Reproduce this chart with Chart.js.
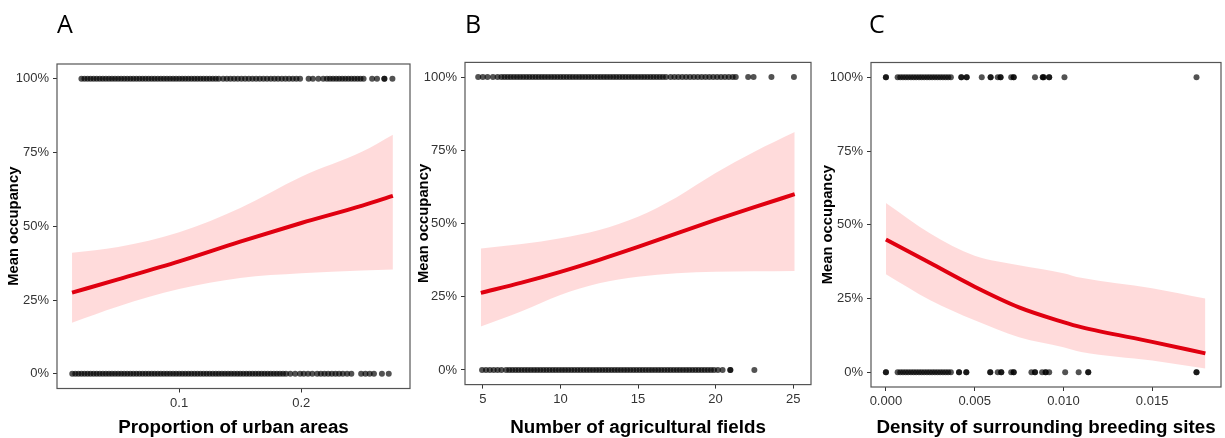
<!DOCTYPE html>
<html>
<head>
<meta charset="utf-8">
<title>Mean occupancy</title>
<script src="https://cdn.jsdelivr.net/npm/chart.js@4.4.1/dist/chart.umd.min.js"></script>
<style>
  body { margin: 0; background: #fff; }
  #wrap { position: relative; width: 1225px; height: 438px; overflow: hidden; }
  .panel { position: absolute; top: 0; }
  .letter { position: absolute; top: 11px; font: 25px "Open Sans", sans-serif; line-height: 25px; color: #000; }
</style>
</head>
<body>
<div id="wrap">
  <canvas id="chartA" class="panel" style="left:0px" width="414" height="438"></canvas>
  <canvas id="chartB" class="panel" style="left:414px" width="401" height="438"></canvas>
  <canvas id="chartC" class="panel" style="left:815px" width="410" height="438"></canvas>
  <div class="letter" style="left:57px">A</div>
  <div class="letter" style="left:465px">B</div>
  <div class="letter" style="left:869px">C</div>
</div>
<script>
// ---------------------- DATA ---------------------
const occTicks = [0, 0.25, 0.5, 0.75, 1];

// A: proportion of urban areas
const urbanTicks = [0.1, 0.2];
const urbanOcc1 = [0.02, 0.0225, 0.025, 0.0275, 0.03, 0.0325, 0.035, 0.0375, 0.04, 0.0425, 0.045, 0.0475, 0.05, 0.0525,
  0.055, 0.0575, 0.06, 0.0625, 0.065, 0.0675, 0.07, 0.0725, 0.075, 0.0775, 0.08, 0.0825, 0.085, 0.0875, 0.09, 0.0925,
  0.095, 0.0975, 0.1, 0.1025, 0.105, 0.1075, 0.11, 0.1125, 0.115, 0.1175, 0.12, 0.1225, 0.125, 0.1275, 0.13, 0.1325,
  0.136, 0.139, 0.142, 0.145, 0.148, 0.151, 0.154, 0.157, 0.16, 0.163, 0.166, 0.169, 0.172, 0.175, 0.178, 0.181,
  0.184, 0.187, 0.19, 0.193, 0.196, 0.199, 0.206, 0.2095, 0.214, 0.218, 0.221, 0.2235, 0.226, 0.2285, 0.231, 0.2335,
  0.236, 0.2385, 0.241, 0.2435, 0.246, 0.2485, 0.251, 0.258, 0.262, 0.268, 0.268, 0.2746];
const urbanOcc0 = [0.0125, 0.015, 0.0175, 0.02, 0.0225, 0.025, 0.0275, 0.03, 0.0325, 0.035, 0.0375, 0.04, 0.0425, 0.045,
  0.0475, 0.05, 0.0525, 0.055, 0.0575, 0.06, 0.0625, 0.065, 0.0675, 0.07, 0.0725, 0.075, 0.0775, 0.08, 0.0825, 0.085,
  0.0875, 0.09, 0.0925, 0.095, 0.0975, 0.1, 0.1025, 0.105, 0.1075, 0.11, 0.1125, 0.115, 0.1175, 0.12, 0.1225, 0.125,
  0.1275, 0.13, 0.1325, 0.135, 0.1375, 0.14, 0.1425, 0.145, 0.1475, 0.15, 0.1525, 0.155, 0.1575, 0.16, 0.1625, 0.165,
  0.1675, 0.17, 0.1725, 0.175, 0.1775, 0.18, 0.1825, 0.185, 0.1875, 0.191, 0.195, 0.199, 0.202, 0.2055, 0.209, 0.213,
  0.216, 0.219, 0.222, 0.225, 0.228, 0.231, 0.234, 0.2375, 0.241, 0.249, 0.2525, 0.256, 0.2595, 0.266, 0.2716];
const urbanCurveX = [0.0123, 0.05, 0.1, 0.15, 0.2, 0.25, 0.275];
const urbanFit = [0.275, 0.32, 0.381, 0.448, 0.511, 0.57, 0.603];
const urbanLower = [0.173, 0.228, 0.287, 0.325, 0.341, 0.35, 0.353];
const urbanUpper = [0.41, 0.43, 0.48, 0.562, 0.668, 0.753, 0.81];

// B: number of agricultural fields
const fieldTicks = [5, 10, 15, 20, 25];
const fieldOcc1 = [4.7, 5.0, 5.3, 5.65, 5.95, 6.2, 6.4, 6.6, 6.8, 7.0, 7.2, 7.4, 7.6, 7.8, 8.0, 8.2, 8.4, 8.6, 8.8, 9.0,
  9.2, 9.4, 9.6, 9.8, 10.0, 10.2, 10.4, 10.6, 10.8, 11.0, 11.2, 11.4, 11.6, 11.8, 12.0, 12.2, 12.4, 12.6, 12.8, 13.0,
  13.2, 13.4, 13.6, 13.8, 14.0, 14.2, 14.4, 14.6, 14.8, 15.0, 15.2, 15.4, 15.6, 15.8, 16.0, 16.2, 16.4, 16.6, 16.8,
  17.1, 17.35, 17.6, 17.85, 18.1, 18.35, 18.6, 18.85, 19.1, 19.35, 19.6, 19.85, 20.1, 20.35, 20.6, 20.85, 21.1, 21.3,
  22.1, 22.45, 23.6, 25.05];
const fieldOcc0 = [4.95, 5.2, 5.45, 5.7, 5.95, 6.2, 6.5, 6.7, 6.9, 7.1, 7.3, 7.5, 7.7, 7.9, 8.1, 8.3, 8.5, 8.7, 8.9, 9.1,
  9.3, 9.5, 9.7, 9.9, 10.1, 10.3, 10.5, 10.7, 10.9, 11.1, 11.3, 11.5, 11.7, 11.9, 12.1, 12.3, 12.5, 12.7, 12.9, 13.1,
  13.3, 13.5, 13.7, 13.9, 14.1, 14.3, 14.5, 14.7, 14.9, 15.1, 15.3, 15.5, 15.7, 15.9, 16.1, 16.3, 16.5, 16.7, 16.9,
  17.1, 17.3, 17.5, 17.7, 17.9, 18.1, 18.3, 18.5, 18.7, 18.9, 19.1, 19.3, 19.5, 19.7, 19.9, 20.15, 20.45, 20.95, 20.95,
  22.5];
const fieldCurveX = [4.87, 7.5, 10, 12.5, 15, 17.5, 20, 22.5, 25.1];
const fieldFit = [0.263, 0.298, 0.335, 0.376, 0.42, 0.466, 0.512, 0.556, 0.6];
const fieldLower = [0.148, 0.2, 0.256, 0.296, 0.318, 0.33, 0.335, 0.337, 0.338];
const fieldUpper = [0.415, 0.43, 0.45, 0.478, 0.523, 0.59, 0.672, 0.745, 0.812];

// C: density of surrounding breeding sites
const breedTicks = [0, 0.005, 0.01, 0.015];
const breedOcc1 = [0, 0, 0.00066, 0.00081, 0.00096, 0.00111, 0.00126, 0.00141, 0.00156, 0.00171, 0.00186, 0.00201,
  0.00216, 0.00231, 0.00246, 0.00261, 0.00276, 0.00291, 0.00306, 0.00321, 0.00336, 0.00351, 0.00366,
  0.00425, 0.00425, 0.00455, 0.00455, 0.0054, 0.0059, 0.0059, 0.0063, 0.00646, 0.00646, 0.00706, 0.0072, 0.0072,
  0.0084, 0.00884, 0.00884, 0.0089, 0.0092, 0.0092, 0.01006, 0.0175];
const breedOcc0 = [0, 0, 0.00066, 0.00081, 0.00096, 0.00111, 0.00126, 0.00141, 0.00156, 0.00171, 0.00186, 0.00201,
  0.00216, 0.00231, 0.00246, 0.00261, 0.00276, 0.00291, 0.00306, 0.00321, 0.00336, 0.00351, 0.00366,
  0.00412, 0.00412, 0.00453, 0.00453, 0.00588, 0.00588, 0.0063, 0.0065, 0.0065, 0.00706, 0.0072, 0.0072, 0.0082,
  0.0084, 0.0084, 0.0088, 0.009, 0.009, 0.0092, 0.0101, 0.01086, 0.0114, 0.0114, 0.0175, 0.0175];
const breedCurveX = [0, 0.0025, 0.005, 0.0075, 0.01, 0.011, 0.015, 0.018];
const breedFit = [0.45, 0.37, 0.29, 0.22, 0.17, 0.153, 0.103, 0.064];
const breedLower = [0.332, 0.244, 0.176, 0.119, 0.085, 0.069, 0.04, 0.013];
const breedUpper = [0.574, 0.47, 0.395, 0.363, 0.336, 0.32, 0.285, 0.25];

// ---------------------- HELPERS ---------------------
const FONT = "'Liberation Sans', Arial, sans-serif";
const TEXT = "#333";
const DOT = "rgba(0,0,0,0.68)";

const framePlugin = {
  id: "frame",
  afterDatasetsDraw(chart) {
    const a = chart.chartArea;
    const ctx = chart.ctx;
    ctx.save();
    ctx.strokeStyle = "#555";
    ctx.lineWidth = 1.2;
    ctx.strokeRect(a.left, a.top, a.right - a.left, a.bottom - a.top);
    ctx.restore();
  }
};

function pairs(xs, ys) {
  return xs.map((x, i) => ({ x: x, y: ys[i] }));
}

function row(xs, y) {
  return xs.map(x => ({ x: x, y: y }));
}

function makePanel(id, p) {
  const canvas = document.getElementById(id);
  const padLeft = p.yTitleX - 8.9;
  return new Chart(canvas, {
    type: "scatter",
    data: {
      datasets: [
        { type: "line", data: pairs(p.curveX, p.lower), borderWidth: 0, pointRadius: 0, fill: false,
          cubicInterpolationMode: "monotone", order: 3 },
        { type: "line", data: pairs(p.curveX, p.upper), borderWidth: 0, pointRadius: 0, fill: "-1",
          backgroundColor: "rgba(255, 0, 0, 0.14)", cubicInterpolationMode: "monotone", order: 3 },
        { data: row(p.occ1, 1), pointRadius: 3, backgroundColor: DOT, borderWidth: 0, order: 2 },
        { data: row(p.occ0, 0), pointRadius: 3, backgroundColor: DOT, borderWidth: 0, order: 2 },
        { type: "line", data: pairs(p.curveX, p.fit), borderColor: "#e00010", borderWidth: 4, pointRadius: 0,
          fill: false, cubicInterpolationMode: "monotone", order: 1 }
      ]
    },
    options: {
      responsive: false,
      animation: false,
      events: [],
      layout: { padding: { left: padLeft, right: canvas.width - p.right, top: p.top, bottom: 0 } },
      plugins: { legend: { display: false }, tooltip: { enabled: false } },
      scales: {
        x: {
          type: "linear",
          min: p.xMin,
          max: p.xMax,
          afterBuildTicks: s => { s.ticks = p.xTicks.map(v => ({ value: v })); },
          afterFit: s => { s.height = 438 - p.bottom; },
          grid: { drawOnChartArea: false, drawTicks: true, tickLength: 4, color: "#333" },
          border: { display: false },
          ticks: { color: TEXT, font: { family: FONT, size: 13 }, padding: 3, maxRotation: 0,
            callback: v => p.fmt(v) },
          title: { display: true, text: p.xTitle, color: "#000", padding: { top: 0, bottom: -1 },
            font: { family: FONT, size: 18.8, weight: "bold" } }
        },
        y: {
          min: -0.05,
          max: 1.05,
          afterBuildTicks: s => { s.ticks = occTicks.map(v => ({ value: v })); },
          afterFit: s => { s.width = p.left - padLeft; },
          grid: { drawOnChartArea: false, drawTicks: true, tickLength: 4, color: "#333" },
          border: { display: false },
          ticks: { color: TEXT, font: { family: FONT, size: 13 }, padding: 4,
            callback: v => Math.round(v * 100) + "%" },
          title: { display: true, text: "Mean occupancy", color: "#000", padding: 0,
            font: { family: FONT, size: 14.8, weight: "bold" } }
        }
      }
    },
    plugins: [framePlugin]
  });
}

// ---------------------- PANELS ---------------------
makePanel("chartA", {
  left: 57, right: 410, top: 64, bottom: 388.5, yTitleX: 14,
  xMin: 0.0, xMax: 0.289, xTicks: urbanTicks, fmt: v => v.toFixed(1),
  xTitle: "Proportion of urban areas",
  occ1: urbanOcc1, occ0: urbanOcc0,
  curveX: urbanCurveX, fit: urbanFit, lower: urbanLower, upper: urbanUpper
});

makePanel("chartB", {
  left: 51, right: 400, top: 62.4, bottom: 384.6, yTitleX: 9.5,
  xMin: 3.85, xMax: 26.15, xTicks: fieldTicks, fmt: v => String(v),
  xTitle: "Number of agricultural fields",
  occ1: fieldOcc1, occ0: fieldOcc0,
  curveX: fieldCurveX, fit: fieldFit, lower: fieldLower, upper: fieldUpper
});

makePanel("chartC", {
  left: 56, right: 407, top: 62.5, bottom: 387, yTitleX: 13,
  xMin: -0.00084, xMax: 0.01888, xTicks: breedTicks, fmt: v => v.toFixed(3),
  xTitle: "Density of surrounding breeding sites",
  occ1: breedOcc1, occ0: breedOcc0,
  curveX: breedCurveX, fit: breedFit, lower: breedLower, upper: breedUpper
});
</script>
</body>
</html>
